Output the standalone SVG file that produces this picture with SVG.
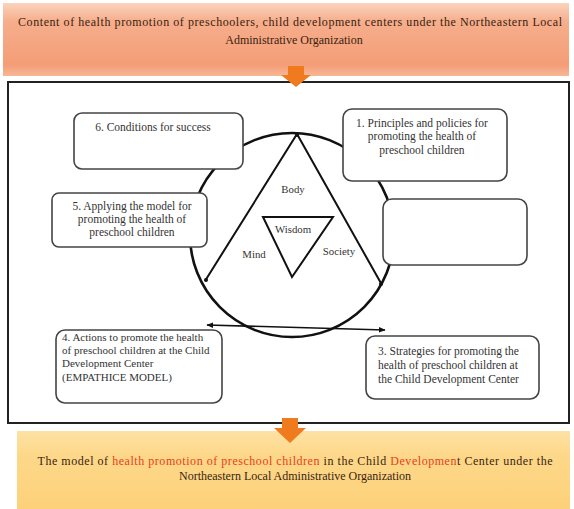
<svg xmlns="http://www.w3.org/2000/svg" width="574" height="509" viewBox="0 0 574 509">
<defs>
<linearGradient id="gTop" x1="0" y1="0" x2="0" y2="1">
<stop offset="0" stop-color="#fbd3bd"/>
<stop offset="0.25" stop-color="#f6ae8c"/>
<stop offset="0.85" stop-color="#f49d76"/>
<stop offset="1" stop-color="#f7b797"/>
</linearGradient>
<linearGradient id="gBot" x1="0" y1="0" x2="0" y2="1">
<stop offset="0" stop-color="#fde2a4"/>
<stop offset="0.3" stop-color="#fdd88a"/>
<stop offset="1" stop-color="#fdd17a"/>
</linearGradient>
<marker id="ah" viewBox="0 0 10 10" refX="9" refY="5" markerWidth="7" markerHeight="7" orient="auto-start-reverse" markerUnits="userSpaceOnUse">
<path d="M0,1 L10,5 L0,9 z" fill="#111"/>
</marker>
<style>
.box{fill:#fff;stroke:#444;stroke-width:1.6}
.t{font-size:11.5px;fill:#333}
.s{font-size:11px}
.lb{font-size:10.8px}
.c{text-anchor:middle}
.ban{font-size:12px;fill:#3a1e10;text-anchor:middle}
.red{fill:#e8401c}
.arr{fill:#f07a1e}
.ln{stroke:#111;stroke-width:2;fill:none}
</style>
</defs>
<rect width="574" height="509" fill="#fff"/>
<g font-family="Liberation Serif, Times New Roman, serif">
<g id="top-banner">
<rect x="3" y="3" width="566" height="73" fill="url(#gTop)"/>
<text class="ban" x="290" y="26" textLength="544" lengthAdjust="spacing">Content of health promotion of preschoolers, child development centers under the Northeastern Local</text>
<text class="ban" x="294" y="44">Administrative Organization</text>
</g>
<g id="frame">
<rect x="8" y="82" width="561" height="341" fill="none" stroke="#222" stroke-width="2"/>
</g>
<g id="arrow-top">
<path class="arr" d="M288,66 H304 V75 H311 L296,87 L281,75 H288 z"/>
</g>
<g id="wheel">
<circle cx="292" cy="235" r="102" fill="none" stroke="#111" stroke-width="2.6"/>
<path class="ln" d="M205,281 L297,134 L382,285"/>
<circle cx="297" cy="135" r="2" fill="#111"/>
<circle cx="206" cy="280" r="2" fill="#111"/>
<circle cx="381" cy="284" r="2" fill="#111"/>
<path class="ln" d="M263,217 L333,217 L292,277 z"/>
<text class="t c lb" x="293" y="193">Body</text>
<text class="t c lb" x="293" y="233">Wisdom</text>
<text class="t c lb" x="254" y="258">Mind</text>
<text class="t c lb" x="339" y="255">Society</text>
</g>
<g id="connectors">
<line x1="207" y1="325" x2="385" y2="330" stroke="#111" stroke-width="1.6" marker-start="url(#ah)" marker-end="url(#ah)"/>
</g>
<g id="node6">
<rect class="box" x="74" y="113" width="169" height="56" rx="8"/>
<text class="t c" x="153" y="131">6. Conditions for success</text>
</g>
<g id="node5">
<rect class="box" x="52" y="193" width="155" height="54" rx="7"/>
<text class="t c" x="132" y="210">5. Applying the model for</text>
<text class="t c" x="132" y="223">promoting the health of</text>
<text class="t c" x="132" y="236">preschool children</text>
</g>
<g id="node1">
<rect class="box" x="343" y="109" width="164" height="72" rx="9"/>
<text class="t c" x="422" y="127">1. Principles and policies for</text>
<text class="t c" x="422" y="140">promoting the health of</text>
<text class="t c" x="422" y="154">preschool children</text>
</g>
<g id="node2">
<rect class="box" x="383" y="199" width="144" height="66" rx="9"/>
</g>
<g id="node4">
<rect class="box" x="56" y="330" width="166" height="73" rx="9"/>
<text class="t s" x="62" y="341">4. Actions to promote the health</text>
<text class="t s" x="62" y="354">of preschool children at the Child</text>
<text class="t s" x="62" y="367">Development Center</text>
<text class="t s" x="62" y="381">(EMPATHICE MODEL)</text>
</g>
<g id="node3">
<rect class="box" x="366" y="336" width="173" height="63" rx="9"/>
<text class="t" x="378" y="355">3. Strategies for promoting the</text>
<text class="t" x="378" y="369">health of preschool children at</text>
<text class="t" x="378" y="383">the Child Development Center</text>
</g>
<g id="bottom-banner">
<rect x="17" y="431" width="553" height="78" fill="url(#gBot)"/>
<text class="ban" x="295" y="465" textLength="515" lengthAdjust="spacing">The model of <tspan class="red">health promotion of preschool children</tspan> in the Child <tspan class="red">Developmen</tspan>t Center under the</text>
<text class="ban" x="295" y="480">Northeastern Local Administrative Organization</text>
</g>
<g id="arrow-bottom">
<path class="arr" d="M282,418 H298 V428 H306 L290,443 L274,428 H282 z"/>
</g>
</g>
</svg>
